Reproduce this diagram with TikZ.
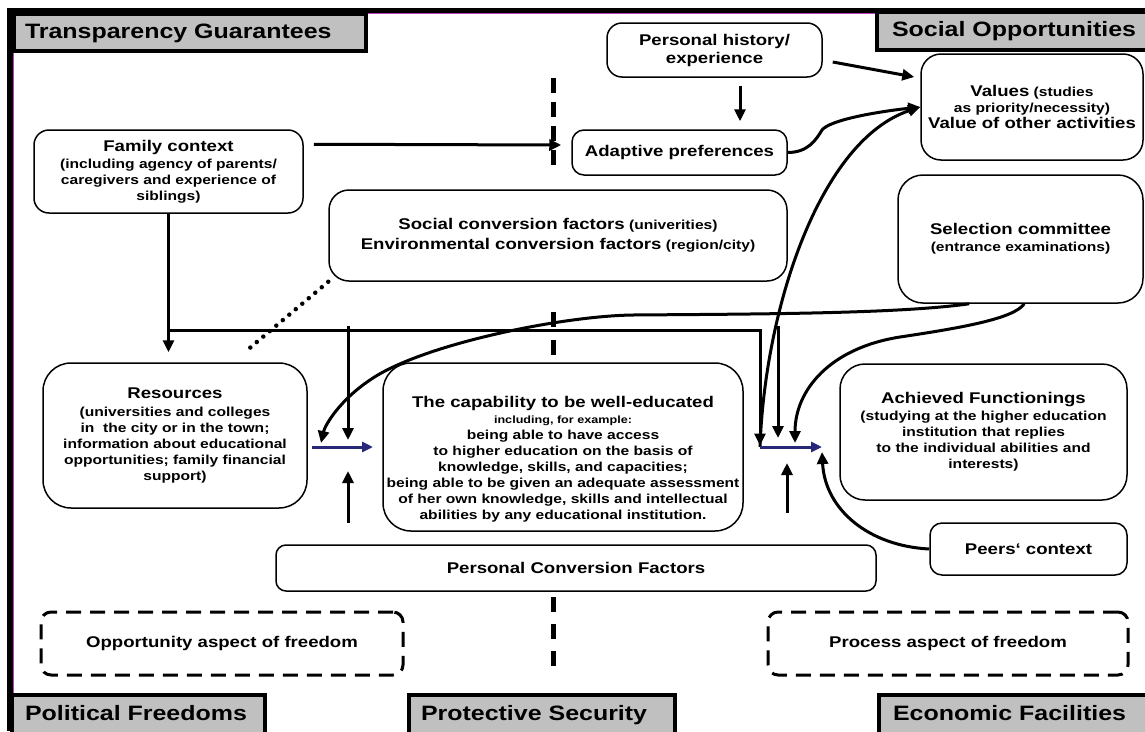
\documentclass[tikz,border=0pt]{standalone}
\usepackage{fontspec}
\setmainfont{Liberation Sans}[FakeStretch=1.2]
\usetikzlibrary{arrows.meta,calc}

\definecolor{labelgray}{RGB}{192,192,192}
\definecolor{flowblue}{RGB}{40,40,120}
\definecolor{framepink}{RGB}{190,60,190}

\newcommand\FBig{\fontsize{15.5}{18}\selectfont}
\newcommand\FSmall{\fontsize{13}{16}\selectfont}
\newcommand\FTiny{\fontsize{10.5}{14}\selectfont}
\newcommand\FLab{\fontsize{20.8}{24}\selectfont}

\begin{document}
\begin{tikzpicture}[x=1pt,y=-1pt,
  box/.style={draw, line width=1.5pt, rounded corners=15pt, align=center,
    inner sep=0pt, font=\bfseries\FSmall},
  aspectbox/.style={draw, line width=3pt, dash pattern=on 15pt off 9pt,
    rounded corners=10pt, align=center, inner sep=0pt, font=\bfseries\FBig},
  cornerlab/.style={draw, line width=4pt, fill=labelgray, align=left,
    anchor=north west, outer sep=0pt, inner ysep=0pt,
    text height=15pt, text depth=4pt, font=\bfseries\FLab},
  conn/.style={line width=3pt, -{Triangle[length=12pt,width=11pt]}},
  flow/.style={draw=flowblue, line width=3pt,
    -{Triangle[length=11pt,width=10pt]}, flowblue},
  divider/.style={line width=5pt, dash pattern=on 15pt off 9pt},
  dotted link/.style={line width=4.5pt, line cap=round, dash pattern=on 0pt off 8.5pt}
]
\useasboundingbox (0,0) rectangle (1145,731);
\clip (0,0) rectangle (1145,731);
\fill[white] (0,0) rectangle (1145,731);

% outer frame
\draw[framepink, line width=1pt] (13.5,13.5) -- (1145,13.5);
\draw[framepink, line width=1pt] (13.5,13.5) -- (13.5,731);
\draw[line width=5pt] (7,10.5) -- (1145,10.5);
\draw[line width=6pt] (10,8) -- (10,731);

% corner labels (instrumental freedoms)
\node[cornerlab, minimum height=37pt, inner xsep=11pt, text width=330pt] (tg) at (14,14) {Transparency Guarantees};
\node[cornerlab, minimum height=38pt, inner xsep=15pt, text width=253pt] (so) at (877,12) {Social Opportunities};
\node[cornerlab, minimum height=40pt, inner xsep=13pt, text width=227pt] (pf) at (12,695) {Political Freedoms};
\node[cornerlab, minimum height=40pt, inner xsep=12pt, text width=242pt] (ps) at (409,695) {Protective Security};
\node[cornerlab, minimum height=40pt, inner xsep=14pt, text width=260pt] (ef) at (879,695) {Economic Facilities};

% boxes
\node[box, minimum width=215pt, minimum height=54pt, font=\bfseries\FBig] (ph) at (714.5,50) {Personal history/\\ experience};
\node[box, minimum width=215pt, minimum height=45pt, rounded corners=12pt, font=\bfseries\FBig] (ap) at (679.5,152.5) {Adaptive preferences};
\node[box, minimum width=222pt, minimum height=106pt, rounded corners=20pt] (val) at (1032,107)
  {{\FBig Values} (studies\\ as priority/necessity)\\ {\FBig Value of other activities}};
\node[box, minimum width=245pt, minimum height=128pt, rounded corners=25pt] (sel) at (1020.5,239)
  {{\FBig Selection committee}\\[1pt] (entrance examinations)};
\node[box, minimum width=269pt, minimum height=83pt] (fam) at (168.5,171.5)
  {{\FBig Family context}\\[1pt] (including agency of parents/\\ caregivers and experience of\\ siblings)};
\node[box, minimum width=458pt, minimum height=91pt, rounded corners=20pt] (soc) at (558,235.5)
  {{\FBig Social conversion factors} (univerities)\\[4pt] {\FBig Environmental conversion factors} (region/city)};
\node[box, minimum width=264pt, minimum height=145pt, rounded corners=28pt] (res) at (175,435.5)
  {{\FBig Resources}\\[2pt] (universities and colleges\\ in\ \ the city or in the town;\\ information about educational\\ opportunities; family financial\\ support)};
\node[box, minimum width=360pt, minimum height=168pt, rounded corners=28pt] (cap) at (563,447) {};
\node[align=center, inner sep=0pt, font=\bfseries\FSmall] (captext) at (563,459)
  {{\FBig The capability to be well-educated}\\ {\FTiny including, for example:}\\ being able to have access\\ to higher education on the basis of\\ knowledge, skills, and capacities;\\ being able to be given an adequate assessment\\ of her own knowledge, skills and intellectual\\ abilities by any educational institution.};
\node[box, minimum width=287pt, minimum height=136pt, rounded corners=25pt] (ach) at (983.5,432)
  {{\FBig Achieved Functionings}\\[1pt] (studying at the higher education\\ institution that replies\\ to the individual abilities and\\ interests)};
\node[box, minimum width=197pt, minimum height=52pt, rounded corners=12pt, font=\bfseries\FBig] (peer) at (1028.5,549) {Peers‘ context};
\node[box, minimum width=600pt, minimum height=46pt, rounded corners=10pt, font=\bfseries\FBig] (pcf) at (576,568) {Personal Conversion Factors};
\node[aspectbox, minimum width=362pt, minimum height=63pt] (opp) at (222,643.5) {Opportunity aspect of freedom};
\node[aspectbox, minimum width=360pt, minimum height=63pt] (proc) at (948,643.5) {Process aspect of freedom};

% conversion points
\coordinate (cL) at (312,447);
\coordinate (cR) at (373,447);
\coordinate (fL) at (760,447);
\coordinate (fR) at (822,447);
\coordinate (jL) at (168.5,330);
\coordinate (dA) at (348,326);
\coordinate (dB) at (778,326);
\coordinate (uA) at (348,523);
\coordinate (uB) at (787,513);
\coordinate (dotEnd) at (245,352);
\coordinate (m1a) at (553,78);
\coordinate (m1b) at (553,167);
\coordinate (m2a) at (553,312);
\coordinate (m2b) at (553,355);
\coordinate (m3a) at (553,597);
\coordinate (m3b) at (553,670);

% dividing line between opportunity and process
\draw[divider] (m1a) -- (m1b);
\draw[divider, dash pattern=on 15pt off 13pt] (m2a) -- (m2b);
\draw[divider, dash pattern=on 15pt off 12pt] (m3a) -- (m3b);

% straight connectors
\draw[conn] ($(fam.north east)+(10,15)$) -- ($(ap.west)+(-10,-7.5)$);
\draw[conn] ($(ph.south)+(25.5,8)$) -- ($(ap.north)+(60.5,-8)$);
\draw[conn] ($(ph.east)+(10,12)$) -- ($(val.west)+(-6,-30)$);
\draw[conn, shorten >=10pt] (fam.south) -- (fam.south |- res.north);
\draw[conn, shorten >=1.5pt] (jL) -| (fL);
\draw[conn, shorten >=7pt] (dA) -- (dA |- cL);
\draw[conn, shorten >=9pt] (dB) -- (dB |- fL);
\draw[conn, shorten >=24pt] (uA) -- (uA |- cL);
\draw[conn, shorten >=16pt] (uB) -- (uB |- fL);
\draw[dotted link] (soc.south west) -- (dotEnd);

% curved connectors
\draw[conn] (ap.east) .. controls +(20,0) and +(-6,10) .. (822,130)
  .. controls +(8,-10) and +(-45,5) .. (val.west);
\draw[conn] (fL) .. controls +(5,-140) and +(-100,33) .. (val.west);
\draw[conn] ($(sel.south west)+(72,0)$) .. controls +(-70,10) and +(127,-1) .. (633,315)
  .. controls +(-73,1) and +(50,-35) .. (370,380)
  .. controls +(-30,20) and +(4,-18) .. ($(cL)+(9,-4)$);
\draw[conn] ($(sel.south west)+(127,0)$) .. controls +(-10,15) and +(60,-9) .. (900,337)
  .. controls +(-70,11) and +(0,-53) .. ($(fL)+(35,-4)$);
\draw[conn] (peer.west) .. controls +(-60,-3) and +(3,58) .. ($(fR)+(0,5)$);

% conversion arrows
\draw[flow] (cL) -- (cR);
\draw[flow] (fL) -- (fR);
\end{tikzpicture}
\end{document}
